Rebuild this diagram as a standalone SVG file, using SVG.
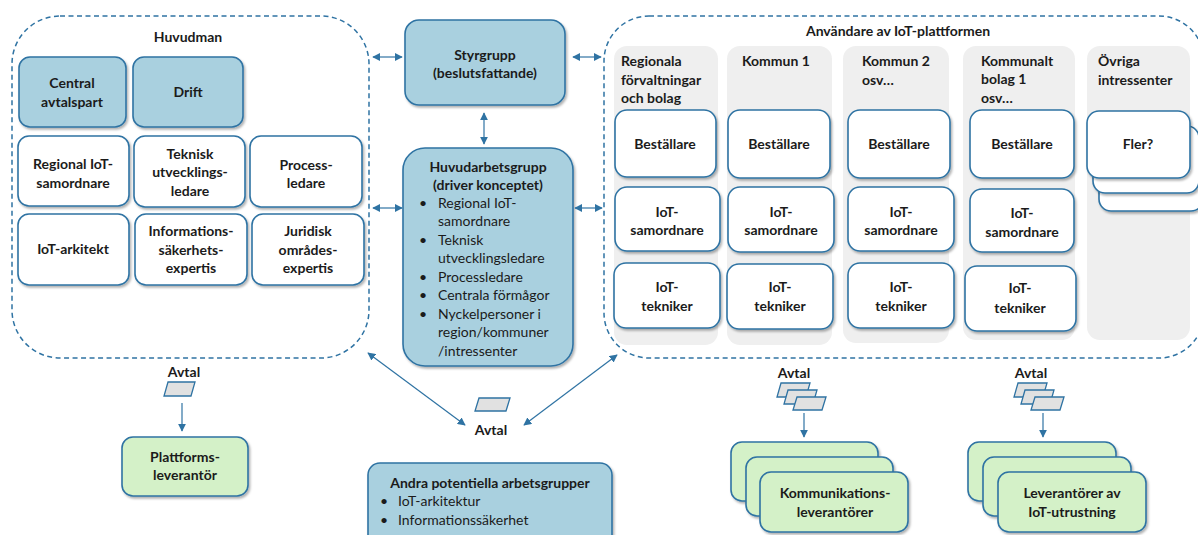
<svg xmlns="http://www.w3.org/2000/svg" width="1198" height="535" viewBox="0 0 1198 535">
  <style>
    text { font-family: Lato, "Liberation Sans", sans-serif; font-size: 14px; font-weight: bold; fill: #1b1b1b; text-anchor: middle; }
    .reg { font-weight: normal; }
    .left { text-anchor: start; }
    .box { fill: #ffffff; stroke: #2f73a3; stroke-width: 1.6; filter: url(#sh); }
    .blue { fill: #a9d0df; }
    .green { fill: #d4f1c8; }
    .col { fill: #efefef; stroke: none; }
    .dash { fill: none; stroke: #2f73a3; stroke-width: 1.5; stroke-dasharray: 5 3.5; }
    .doc { fill: #e1e1e1; stroke: #2f73a3; stroke-width: 1.3; }
    .conn { fill: none; stroke: #2f73a3; stroke-width: 1.2; }
    .both { marker-start: url(#ah); marker-end: url(#ah); }
    .one { marker-end: url(#ah); }
  </style>
  <defs>
    <filter id="sh" x="-10%" y="-10%" width="125%" height="130%">
      <feDropShadow dx="1.5" dy="2" stdDeviation="1.3" flood-color="#000" flood-opacity="0.3"/>
    </filter>
    <marker id="ah" viewBox="0 0 10 10" refX="9" refY="5" markerWidth="8" markerHeight="8" markerUnits="userSpaceOnUse" orient="auto-start-reverse">
      <path d="M0,0 L10,5 L0,10 z" fill="#2f73a3"/>
    </marker>
  </defs>

  <!-- Huvudman container -->
  <g id="huvudman">
    <rect class="dash" x="12" y="16" width="357" height="342" rx="48"/>
    <text x="188" y="42">Huvudman</text>
  </g>
  <g id="central-avtalspart">
    <rect class="box blue" x="19" y="57" width="107" height="70" rx="11"/>
    <text x="72" y="88">Central</text>
    <text x="72" y="107">avtalspart</text>
  </g>
  <g id="drift">
    <rect class="box blue" x="133" y="57" width="110" height="70" rx="11"/>
    <text x="188" y="97">Drift</text>
  </g>
  <g id="regional-iot-samordnare">
    <rect class="box" x="18" y="136" width="111" height="70" rx="11"/>
    <text x="73" y="169">Regional IoT-</text>
    <text x="73" y="188">samordnare</text>
  </g>
  <g id="teknisk-utvecklingsledare">
    <rect class="box" x="134" y="136" width="111" height="71" rx="11"/>
    <text x="190" y="159">Teknisk</text>
    <text x="190" y="177">utvecklings-</text>
    <text x="190" y="196">ledare</text>
  </g>
  <g id="processledare">
    <rect class="box" x="250" y="136" width="112" height="71" rx="11"/>
    <text x="306" y="170">Process-</text>
    <text x="306" y="188">ledare</text>
  </g>
  <g id="iot-arkitekt">
    <rect class="box" x="18" y="214" width="111" height="71" rx="11"/>
    <text x="73" y="254">IoT-arkitekt</text>
  </g>
  <g id="informationssakerhetsexpertis">
    <rect class="box" x="135" y="214" width="112" height="71" rx="11"/>
    <text x="191" y="236">Informations-</text>
    <text x="191" y="255">säkerhets-</text>
    <text x="191" y="273">expertis</text>
  </g>
  <g id="juridisk-omradesexpertis">
    <rect class="box" x="252" y="214" width="112" height="71" rx="11"/>
    <text x="308" y="236">Juridisk</text>
    <text x="308" y="255">områdes-</text>
    <text x="308" y="273">expertis</text>
  </g>

  <!-- Centre column -->
  <g id="styrgrupp">
    <rect class="box blue" x="405" y="20" width="160" height="85" rx="14"/>
    <text x="485" y="60">Styrgrupp</text>
    <text x="485" y="78">(beslutsfattande)</text>
  </g>
  <g id="huvudarbetsgrupp">
    <rect class="box blue" x="403" y="148" width="170" height="218" rx="22"/>
    <text x="488" y="172">Huvudarbetsgrupp</text>
    <text x="488" y="190">(driver konceptet)</text>
    <g class="reg">
      <text class="reg" x="423" y="208">•</text>
      <text class="reg left" x="438" y="208">Regional IoT-</text>
      <text class="reg left" x="438" y="226">samordnare</text>
      <text class="reg" x="423" y="245">•</text>
      <text class="reg left" x="438" y="245">Teknisk</text>
      <text class="reg left" x="438" y="263">utvecklingsledare</text>
      <text class="reg" x="423" y="282">•</text>
      <text class="reg left" x="438" y="282">Processledare</text>
      <text class="reg" x="423" y="300">•</text>
      <text class="reg left" x="438" y="300">Centrala förmågor</text>
      <text class="reg" x="423" y="319">•</text>
      <text class="reg left" x="438" y="319">Nyckelpersoner i</text>
      <text class="reg left" x="438" y="337">region/kommuner</text>
      <text class="reg left" x="438" y="356">/intressenter</text>
    </g>
  </g>

  <!-- Users of the platform -->
  <g id="anvandare">
    <rect class="dash" x="604" y="16" width="600" height="342" rx="45"/>
    <text x="898" y="36">Användare av IoT-plattformen</text>
  </g>
  <g id="regionala">
    <rect class="col" x="614" y="46" width="104" height="299" rx="13"/>
    <text class="left" x="621" y="66">Regionala</text>
    <text class="left" x="621" y="85">förvaltningar</text>
    <text class="left" x="621" y="103">och bolag</text>
    <rect class="box" x="615" y="110" width="101" height="67" rx="12"/>
    <text x="665" y="149">Beställare</text>
    <rect class="box" x="615" y="187" width="105" height="64" rx="12"/>
    <text x="667" y="217">IoT-</text>
    <text x="667" y="235">samordnare</text>
    <rect class="box" x="614" y="263" width="106" height="65" rx="12"/>
    <text x="667" y="292">IoT-</text>
    <text x="667" y="311">tekniker</text>
  </g>
  <g id="kommun-1">
    <rect class="col" x="727" y="46" width="105" height="299" rx="13"/>
    <text class="left" x="742" y="66">Kommun 1</text>
    <rect class="box" x="728" y="110" width="102" height="68" rx="12"/>
    <text x="779" y="149">Beställare</text>
    <rect class="box" x="728" y="187" width="106" height="65" rx="12"/>
    <text x="781" y="217">IoT-</text>
    <text x="781" y="235">samordnare</text>
    <rect class="box" x="727" y="264" width="106" height="65" rx="12"/>
    <text x="780" y="292">IoT-</text>
    <text x="780" y="311">tekniker</text>
  </g>
  <g id="kommun-2">
    <rect class="col" x="843" y="46" width="106" height="297" rx="13"/>
    <text class="left" x="862" y="66">Kommun 2</text>
    <text class="left" x="862" y="85">osv…</text>
    <rect class="box" x="848" y="110" width="102" height="68" rx="12"/>
    <text x="899" y="149">Beställare</text>
    <rect class="box" x="848" y="187" width="106" height="64" rx="12"/>
    <text x="901" y="217">IoT-</text>
    <text x="901" y="235">samordnare</text>
    <rect class="box" x="848" y="263" width="106" height="65" rx="12"/>
    <text x="901" y="292">IoT-</text>
    <text x="901" y="311">tekniker</text>
  </g>
  <g id="kommunalt-bolag-1">
    <rect class="col" x="963" y="46" width="112" height="294" rx="13"/>
    <text class="left" x="981" y="66">Kommunalt</text>
    <text class="left" x="981" y="84">bolag 1</text>
    <text class="left" x="981" y="103">osv…</text>
    <rect class="box" x="970" y="110" width="104" height="68" rx="12"/>
    <text x="1022" y="149">Beställare</text>
    <rect class="box" x="970" y="189" width="104" height="63" rx="12"/>
    <text x="1022" y="218">IoT-</text>
    <text x="1022" y="237">samordnare</text>
    <rect class="box" x="965" y="266" width="111" height="65" rx="12"/>
    <text x="1020" y="293">IoT-</text>
    <text x="1020" y="313">tekniker</text>
  </g>
  <g id="ovriga-intressenter">
    <rect class="col" x="1087" y="46" width="103" height="294" rx="13"/>
    <text class="left" x="1098" y="66">Övriga</text>
    <text class="left" x="1098" y="85">intressenter</text>
    <rect class="box" x="1099" y="143" width="104" height="68" rx="12"/>
    <rect class="box" x="1093" y="126" width="106" height="67" rx="12"/>
    <rect class="box" x="1087" y="111" width="103" height="67" rx="12"/>
    <text x="1138" y="149">Fler?</text>
  </g>

  <!-- Agreements and suppliers -->
  <g id="avtal-plattform">
    <text x="184" y="377">Avtal</text>
    <polygon class="doc" points="168,382 195,382 191,396 164,396"/>
  </g>
  <g id="plattformsleverantor">
    <rect class="box green" x="122" y="437" width="126" height="59" rx="11"/>
    <text x="185" y="462">Plattforms-</text>
    <text x="185" y="480">leverantör</text>
  </g>
  <g id="avtal-mitt">
    <polygon class="doc" points="479,398 510,398 506,411 475,411"/>
    <text x="491" y="435">Avtal</text>
  </g>
  <g id="andra-arbetsgrupper">
    <rect class="box blue" x="368" y="463" width="244" height="90" rx="12"/>
    <text x="490" y="488">Andra potentiella arbetsgrupper</text>
    <text class="reg" x="384" y="506">•</text>
    <text class="reg left" x="398" y="506">IoT-arkitektur</text>
    <text class="reg" x="384" y="525">•</text>
    <text class="reg left" x="398" y="525">Informationssäkerhet</text>
  </g>
  <g id="avtal-kommunikation">
    <text x="794" y="378">Avtal</text>
    <polygon class="doc" points="781,383 810,383 806,397 777,397"/>
    <polygon class="doc" points="788,390 817,390 813,404 784,404"/>
    <polygon class="doc" points="797,397 826,397 822,410 793,410"/>
  </g>
  <g id="kommunikationsleverantorer">
    <rect class="box green" x="731" y="442" width="147" height="59" rx="11"/>
    <rect class="box green" x="746" y="457" width="147" height="59" rx="11"/>
    <rect class="box green" x="760" y="472" width="148" height="60" rx="11"/>
    <text x="835" y="498">Kommunikations-</text>
    <text x="835" y="517">leverantörer</text>
  </g>
  <g id="avtal-utrustning">
    <text x="1031" y="378">Avtal</text>
    <polygon class="doc" points="1018,383 1047,383 1043,397 1014,397"/>
    <polygon class="doc" points="1025,390 1054,390 1050,404 1021,404"/>
    <polygon class="doc" points="1035,397 1064,397 1060,410 1031,410"/>
  </g>
  <g id="leverantorer-iot-utrustning">
    <rect class="box green" x="968" y="442" width="148" height="59" rx="11"/>
    <rect class="box green" x="983" y="457" width="148" height="59" rx="11"/>
    <rect class="box green" x="998" y="472" width="148" height="60" rx="11"/>
    <text x="1072" y="498">Leverantörer av</text>
    <text x="1072" y="517">IoT-utrustning</text>
  </g>

  <!-- Connectors -->
  <g id="connectors">
    <line class="conn both" x1="373" y1="57" x2="402" y2="57"/>
    <line class="conn both" x1="573" y1="57" x2="601" y2="57"/>
    <line class="conn both" x1="484" y1="113" x2="484" y2="144"/>
    <line class="conn both" x1="373" y1="208" x2="402" y2="208"/>
    <line class="conn both" x1="575" y1="208" x2="602" y2="208"/>
    <line class="conn both" x1="368" y1="353" x2="465" y2="425"/>
    <line class="conn both" x1="617" y1="355" x2="524" y2="425"/>
    <line class="conn one" x1="182" y1="403" x2="182" y2="431"/>
    <line class="conn one" x1="804" y1="413" x2="804" y2="437"/>
    <line class="conn one" x1="1043" y1="413" x2="1043" y2="437"/>
  </g>
</svg>
